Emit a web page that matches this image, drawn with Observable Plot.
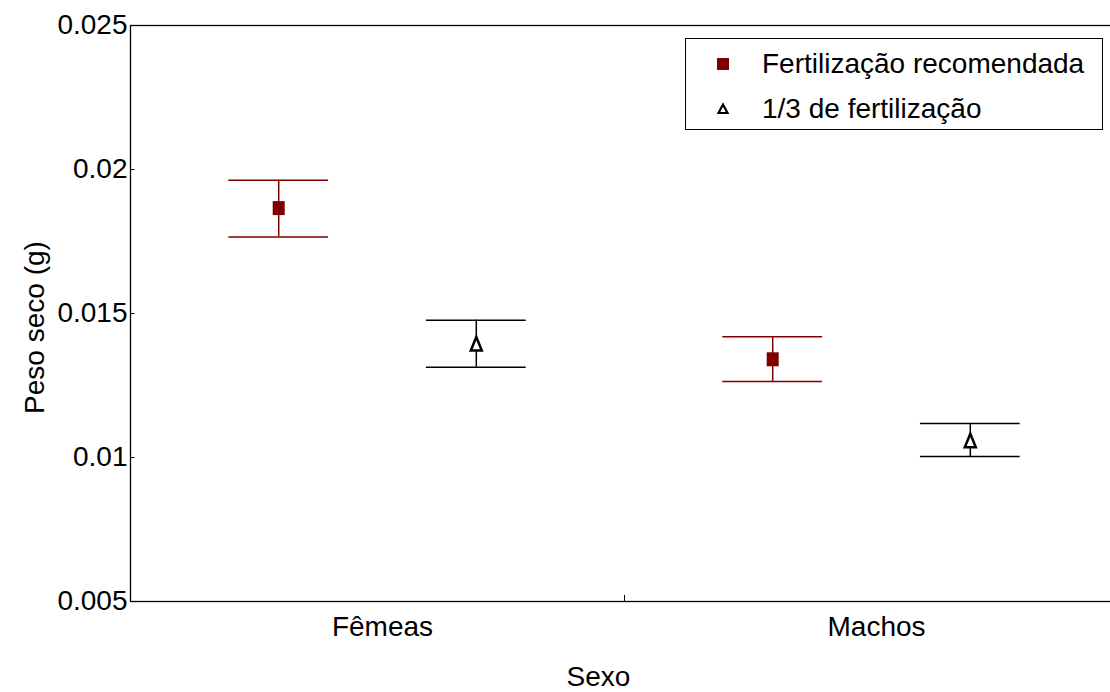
<!DOCTYPE html>
<html>
<head>
<meta charset="utf-8">
<script src="https://cdn.jsdelivr.net/npm/d3@7"></script>
<script src="https://cdn.jsdelivr.net/npm/@observablehq/plot@0.6"></script>
<style>
html,body{margin:0;padding:0;background:#fff;overflow:hidden;width:1110px;height:692px}
#wrap{position:relative;width:1110px;height:692px;overflow:hidden;font-family:"Liberation Sans",Arial,Helvetica,sans-serif}
#chart{position:absolute;left:0;top:0;width:1120px;height:692px}
#chart svg{max-width:none !important;display:block}
#legend{position:absolute;left:685px;top:38px;width:418px;height:92px;border:1.3px solid #000;background:#fff;box-sizing:border-box;font-size:28px;color:#000}
.row{position:absolute;left:0;height:40px;display:flex;align-items:center}
.row svg{position:absolute;left:24px}
.row span{position:absolute;left:76px;white-space:nowrap}
</style>
</head>
<body>
<div id="wrap"><div id="chart"></div><div id="legend"></div></div>
<script>
// categories and series
const sexes = ["Fêmeas", "Machos"];
const treatments = ["Fertilização recomendada", "1/3 de fertilização"];
const meanRecomendada = [0.01866, 0.01341];
const lowRecomendada  = [0.01766, 0.01264];
const highRecomendada = [0.01963, 0.01419];
const meanTerco = [0.01394, 0.01058];
const lowTerco  = [0.013135, 0.010035];
const highTerco = [0.014767, 0.011181];
const yTicks = [0.005, 0.01, 0.015, 0.02, 0.025];
const yTickLabels = ["0.005", "0.01", "0.015", "0.02", "0.025"];
const xLabel = "Sexo";
const yLabel = "Peso seco (g)";

const RED = "#800000";
const groupOffset = [-0.2, 0.2];
const colors = [RED, "#000"];

const rows = [];
sexes.forEach((s, i) => {
  rows.push({sex: s, t: 0, x: i + 1 + groupOffset[0], mean: meanRecomendada[i], low: lowRecomendada[i], high: highRecomendada[i]});
  rows.push({sex: s, t: 1, x: i + 1 + groupOffset[1], mean: meanTerco[i], low: lowTerco[i], high: highTerco[i]});
});

const squareSym = {draw(ctx) { ctx.rect(-6, -7, 12, 14); }};
const triSym = {draw(ctx) { ctx.moveTo(0, -7); ctx.lineTo(5.5, 6.5); ctx.lineTo(-5.5, 6.5); ctx.closePath(); }};

const capHalf = 0.101;
const font = "'Liberation Sans', Arial, Helvetica, sans-serif";

const chart = Plot.plot({
  width: 1120,
  height: 692,
  marginLeft: 130,
  marginRight: 2,
  marginTop: 25,
  marginBottom: 91,
  style: {fontFamily: font, fontSize: "28px", color: "#000", background: "#fff", maxWidth: "none"},
  x: {domain: [0.5, 2.5]},
  y: {domain: [0.005, 0.025]},
  marks: [
    Plot.frame({stroke: "#000", strokeWidth: 1.3}),
    Plot.axisY(yTicks, {tickSize: 0, tickPadding: 3, label: null, tickFormat: d => yTickLabels[yTicks.indexOf(d)], fontSize: 28}),
    Plot.ruleY(yTicks, {y: d => d, x1: 0.5, x2: 0.509, stroke: "#000", strokeWidth: 1}),
    Plot.axisX([1, 2], {tickSize: 0, tickPadding: 15, dx: 5, label: null, tickFormat: d => sexes[d - 1], fontSize: 28}),
    Plot.ruleX([1.5], {x: d => d, y1: 0.005, y2: 0.005 + 0.00021, stroke: "#000", strokeWidth: 1}),
    Plot.ruleX(rows, {x: "x", y1: "low", y2: "high", stroke: d => colors[d.t], strokeWidth: 1.5}),
    Plot.ruleY(rows, {y: "high", x1: d => d.x - capHalf, x2: d => d.x + capHalf, stroke: d => colors[d.t], strokeWidth: 1.5}),
    Plot.ruleY(rows, {y: "low", x1: d => d.x - capHalf, x2: d => d.x + capHalf, stroke: d => colors[d.t], strokeWidth: 1.5}),
    Plot.dot(rows.filter(d => d.t === 0), {x: "x", y: "mean", symbol: squareSym, fill: RED, stroke: "none", r: 7}),
    Plot.dot(rows.filter(d => d.t === 1), {x: "x", y: "mean", symbol: triSym, fill: "#fff", stroke: "#000", strokeWidth: 2.5, r: 7}),
    Plot.text([xLabel], {frameAnchor: "bottom", dx: -26, dy: 84, lineAnchor: "bottom", textAnchor: "middle", fontSize: 28, fill: "#000"}),
    Plot.text([yLabel], {frameAnchor: "left", dx: -87, dy: 14, rotate: -90, lineAnchor: "bottom", textAnchor: "middle", fontSize: 28, fill: "#000"})
  ]
});
chart.style.maxWidth = "none";
document.getElementById("chart").appendChild(chart);

// legend
const legend = document.getElementById("legend");
const legendSymbols = [
  `<svg width="26" height="26" viewBox="-13 -13 26 26"><rect x="-6" y="-6" width="12" height="12" fill="${RED}"/></svg>`,
  `<svg width="26" height="26" viewBox="-13 -13 26 26"><path d="M0,-4.5L4.5,4L-4.5,4Z" fill="#fff" stroke="#000" stroke-width="2.2"/></svg>`
];
const legendTops = [5, 50];
treatments.forEach((t, i) => {
  const row = document.createElement("div");
  row.className = "row";
  row.style.top = legendTops[i] + "px";
  row.innerHTML = legendSymbols[i] + `<span>${t}</span>`;
  legend.appendChild(row);
});
</script>
</body>
</html>
